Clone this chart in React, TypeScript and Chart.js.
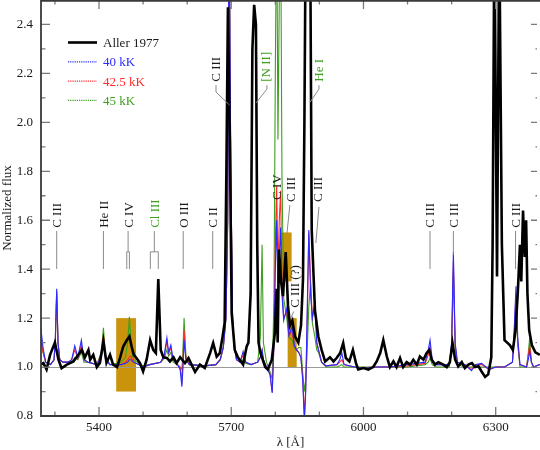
import React, { useEffect, useRef } from 'react';
import { Chart, registerables } from 'chart.js';
Chart.register(...registerables);

const SERIF = '"Liberation Serif", "DejaVu Serif", "Times New Roman", serif';
const BLUE = '#2b2bff';
const RED = '#ff2b2b';
const GREEN = '#3f9f1f';
const ORANGE = '#c9930c';

const X_MIN = 5268.4;
const X_MAX = 6400.5;
const Y_MIN = 0.8;
const Y_MAX = 2.5;
const xTickValues = [5400, 5700, 6000, 6300];
const xMinorTicks = [5300, 5400, 5500, 5600, 5700, 5800, 5900, 6000, 6100, 6200, 6300];
const yTickValues = [0.8, 1.0, 1.2, 1.4, 1.6, 1.8, 2.0, 2.2, 2.4];
const yMinorTicks = [0.9, 1.1, 1.3, 1.5, 1.7, 1.9, 2.1, 2.3];

// Aller 1977 observed spectrum
const allerLambda = [
  5268, 5274, 5281, 5289, 5300, 5308, 5315, 5327, 5342, 5349, 5361, 5368, 5376, 5380, 5387, 5395,
  5402, 5410, 5417, 5425, 5432, 5441, 5448, 5455, 5463, 5469, 5474, 5479, 5485, 5493, 5500, 5508,
  5516, 5523, 5529, 5534.5, 5540, 5546, 5554, 5561, 5569, 5576, 5584, 5595, 5603, 5610, 5618, 5629,
  5640, 5652, 5659, 5667, 5674, 5680, 5685, 5689, 5692.5, 5697, 5701, 5708, 5715, 5727, 5735, 5739,
  5744, 5748, 5752, 5756, 5759, 5762, 5766, 5777, 5783, 5792, 5799, 5803, 5805.4, 5808.4, 5812.9, 5817.4,
  5823.6, 5828.8, 5833.3, 5838.6, 5844.7, 5852.2, 5858.3, 5862.8, 5866, 5869, 5879, 5882.6, 5890, 5897.6,
  5905, 5913, 5924, 5932, 5939, 5947, 5954, 5960, 5968, 5976, 5983, 5988, 6000, 6011, 6022, 6030,
  6038, 6045, 6053, 6060, 6068, 6075, 6083, 6090, 6098, 6106, 6113, 6121, 6128, 6136, 6143, 6149,
  6155, 6162, 6170, 6181, 6189, 6196, 6202, 6208, 6215, 6223, 6230, 6238, 6246, 6253, 6261, 6268,
  6276, 6283, 6290, 6293, 6297, 6303, 6308, 6314, 6320, 6332, 6339, 6345, 6350, 6355, 6358, 6362,
  6366, 6369, 6372, 6376, 6382, 6390, 6400,
];
const allerFlux = [
  1.01, 1.016, 0.99, 1.05, 1.10, 1.03, 0.995, 1.01, 1.023, 1.04, 1.07, 1.04, 1.07, 1.03, 1.05, 1.0,
  1.017, 1.105, 1.017, 1.05, 1.01, 1.0, 1.04, 1.084, 1.11, 1.125, 1.084, 1.05, 1.037, 1.016, 0.982, 1.03,
  1.11, 1.07, 1.057, 1.36, 1.07, 1.04, 1.037, 1.023, 1.04, 1.016, 1.04, 1.016, 1.037, 1.01, 0.98, 1.01,
  0.996, 1.057, 1.098, 1.043, 1.057, 1.12, 1.18, 1.8, 2.47, 1.9, 1.22, 1.07, 1.04, 1.01, 1.084, 1.10,
  1.3, 2.3, 2.48, 2.4, 1.5, 1.1, 1.06, 1.0, 0.99, 1.03, 1.14, 1.32, 1.10, 1.48, 1.35, 1.29,
  1.47, 1.25, 1.17, 1.19, 1.125, 1.10, 1.17, 1.36, 2.0, 2.8, 2.8, 1.56, 1.23, 1.125,
  1.07, 1.023, 1.04, 1.023, 1.037, 1.057, 1.098, 1.037, 1.023, 1.07, 1.016, 0.99, 0.996, 0.99, 1.0, 1.023,
  1.057, 1.11, 1.043, 1.0, 1.023, 1.0, 1.037, 1.0, 1.02, 1.01, 1.03, 1.01, 1.043, 1.03, 1.057, 1.07,
  1.03, 1.01, 1.02, 1.01, 1.0, 1.02, 1.098, 1.03, 1.003, 1.02, 0.996, 1.01, 1.016, 1.0, 1.003, 0.982,
  0.96, 0.97, 1.04, 1.5, 2.8, 1.37, 2.8, 1.5, 1.11, 1.09, 1.07, 1.15, 1.3, 1.5, 1.35, 1.64,
  1.45, 1.6, 1.3, 1.15, 1.09, 1.06, 1.05,
];

// Model spectra (40 kK, 42.5 kK, 45 kK)
const modelLambda = [
  5268, 5273, 5279, 5290, 5298, 5301, 5304, 5307, 5311, 5318, 5330, 5338, 5345, 5352, 5360, 5366,
  5375, 5395, 5405, 5410, 5415, 5425, 5450, 5460, 5465, 5469, 5473, 5478, 5490, 5500, 5515, 5540,
  5548, 5554, 5558, 5563, 5568, 5578, 5584, 5588, 5590, 5593, 5597, 5605, 5640, 5665, 5675, 5682,
  5688, 5692, 5695, 5699, 5703, 5707, 5712, 5720, 5727, 5733, 5745, 5760, 5766, 5770, 5773, 5780,
  5788, 5793, 5797, 5800, 5803, 5806, 5809, 5812, 5815, 5819, 5826, 5831, 5838, 5843, 5848, 5853,
  5858, 5862, 5866, 5869, 5872, 5876, 5880, 5884, 5890, 5894, 5898, 5905, 5915, 5940, 5946, 5951,
  5956, 5980, 6000, 6030, 6060, 6100, 6140, 6147, 6151, 6156, 6165, 6195, 6200, 6204, 6208, 6213,
  6230, 6245, 6255, 6268, 6285, 6300, 6320, 6338, 6342, 6346, 6350, 6355, 6370, 6374, 6377, 6381,
  6386, 6400,
];
const flux40 = [
  1.16, 1.08, 1.02, 1.01, 1.03, 1.12, 1.32, 1.10, 1.03, 1.02, 1.02, 1.03, 1.087, 1.04, 1.11, 1.03,
  1.02, 1.01, 1.04, 1.11, 1.03, 1.01, 1.01, 1.015, 1.02, 1.03, 1.03, 1.02, 1.01, 1.0, 1.01, 1.02,
  1.05, 1.12, 1.06, 1.09, 1.03, 1.01, 0.99, 0.92, 0.98, 1.11, 1.03, 1.01, 1.005, 1.01, 1.03, 1.08,
  1.2, 1.6, 2.9, 1.8, 1.2, 1.08, 1.03, 1.02, 1.064, 1.02, 1.01, 1.02, 1.04, 1.07, 1.03, 1.0,
  0.97, 0.895, 1.1, 1.4, 1.6, 1.3, 1.45, 1.57, 1.3, 1.19, 1.24, 1.13, 1.166, 1.09, 1.07, 1.06,
  1.04, 0.95, 0.78, 0.9, 1.2, 1.56, 1.3, 1.2, 1.27, 1.1, 1.07, 1.02, 1.005, 1.01, 1.03, 1.057,
  1.01, 1.0, 0.995, 1.0, 1.0, 1.01, 1.02, 1.07, 1.11, 1.03, 1.01, 1.01, 1.1, 1.47, 1.1, 1.02,
  1.01, 0.985, 1.01, 1.015, 0.99, 1.0, 1.0, 1.02, 1.15, 1.33, 1.12, 1.01, 1.0, 1.03, 1.064, 1.02,
  1.0, 1.01,
];
const flux425 = [
  1.12, 1.06, 1.02, 1.01, 1.03, 1.12, 1.31, 1.10, 1.03, 1.02, 1.02, 1.03, 1.07, 1.035, 1.09, 1.03,
  1.02, 1.01, 1.05, 1.13, 1.03, 1.01, 1.01, 1.02, 1.03, 1.04, 1.045, 1.02, 1.01, 1.0, 1.01, 1.02,
  1.045, 1.105, 1.055, 1.08, 1.03, 1.01, 1.0, 0.948, 1.0, 1.15, 1.04, 1.01, 1.005, 1.01, 1.03, 1.08,
  1.2, 1.6, 2.9, 1.8, 1.2, 1.08, 1.03, 1.02, 1.05, 1.02, 1.01, 1.02, 1.04, 1.07, 1.03, 1.0,
  0.97, 0.895, 1.1, 1.5, 1.74, 1.4, 1.6, 1.72, 1.35, 1.2, 1.23, 1.13, 1.15, 1.09, 1.07, 1.06,
  1.04, 0.96, 0.80, 0.92, 1.15, 1.55, 1.35, 1.2, 1.25, 1.1, 1.07, 1.02, 1.005, 1.01, 1.02, 1.03,
  1.01, 1.0, 0.997, 1.0, 1.0, 1.005, 1.015, 1.05, 1.084, 1.02, 1.01, 1.01, 1.09, 1.43, 1.09, 1.02,
  1.01, 0.99, 1.01, 1.01, 0.99, 1.0, 1.0, 1.02, 1.14, 1.30, 1.1, 1.01, 1.0, 1.05, 1.09, 1.02,
  1.0, 1.01,
];
const flux45 = [
  1.11, 1.06, 1.02, 1.01, 1.03, 1.11, 1.30, 1.10, 1.03, 1.02, 1.02, 1.02, 1.04, 1.03, 1.06, 1.02,
  1.02, 1.01, 1.06, 1.16, 1.04, 1.01, 1.02, 1.04, 1.10, 1.205, 1.08, 1.03, 1.015, 1.005, 1.01, 1.02,
  1.035, 1.07, 1.045, 1.06, 1.02, 1.01, 1.0, 0.99, 1.05, 1.20, 1.05, 1.01, 1.005, 1.01, 1.03, 1.08,
  1.2, 1.6, 2.9, 1.8, 1.2, 1.08, 1.03, 1.02, 1.03, 1.015, 1.01, 1.02, 1.12, 1.5, 1.10, 1.02,
  0.98, 0.95, 1.3, 2.2, 2.9, 1.93, 2.5, 2.9, 1.8, 1.28, 1.2, 1.12, 1.11, 1.08, 1.07, 1.08,
  1.08, 0.98, 0.90, 0.95, 1.05, 1.25, 1.34, 1.18, 1.12, 1.07, 1.06, 1.02, 1.0, 1.0, 1.005, 1.01,
  1.0, 1.0, 1.0, 1.0, 1.0, 1.0, 1.01, 1.02, 1.037, 1.01, 1.0, 1.0, 1.08, 1.39, 1.08, 1.01,
  1.0, 1.0, 1.0, 1.0, 1.0, 1.0, 1.0, 1.02, 1.12, 1.275, 1.09, 1.0, 1.0, 1.06, 1.118, 1.02,
  1.0, 1.01,
];

// Highlighted wavelength windows: [lambdaStart, lambdaEnd, fluxLow, fluxHigh]
const boxLambdaStart = [5439, 5814.5, 5828];
const boxLambdaEnd = [5484, 5837, 5848.5];
const boxFluxLow = [0.9, 1.35, 1.0];
const boxFluxHigh = [1.2, 1.55, 1.2];

// Line identifications
type LineLabel = {
  text: string; lam: number; f: number; green?: boolean;
  leader: number[][]; fork?: number[];
};
const lineLabels: LineLabel[] = [
  { text: 'C III', lam: 5304, f: 1.569, leader: [[5304, 1.556], [5304, 1.401]] },
  { text: 'He II', lam: 5410, f: 1.569, leader: [[5410, 1.556], [5410, 1.401]] },
  { text: 'C IV', lam: 5466, f: 1.569, leader: [[5466, 1.556], [5466, 1.471]], fork: [5463, 5469, 1.471, 1.401] },
  { text: 'Cl III', lam: 5525.5, f: 1.569, green: true, leader: [[5525.5, 1.556], [5525.5, 1.471]], fork: [5516.5, 5534.5, 1.471, 1.401] },
  { text: 'O III', lam: 5591, f: 1.569, leader: [[5591, 1.556], [5591, 1.401]] },
  { text: 'C II', lam: 5658, f: 1.569, leader: [[5658, 1.556], [5658, 1.401]] },
  { text: 'C III', lam: 6151, f: 1.569, leader: [[6151, 1.556], [6151, 1.401]] },
  { text: 'C III', lam: 6204, f: 1.569, leader: [[6204, 1.556], [6204, 1.458]] },
  { text: 'C III', lam: 6345, f: 1.569, leader: [[6345, 1.556], [6345, 1.401]] },
  { text: 'C III', lam: 5665.4, f: 2.166, leader: [[5665.4, 2.152], [5665.4, 2.124], [5696, 2.071]] },
  { text: '[N II]', lam: 5779, f: 2.166, green: true, leader: [[5781, 2.152], [5781, 2.136], [5756, 2.079]] },
  { text: 'He I', lam: 5899, f: 2.166, green: true, leader: [[5899, 2.152], [5899, 2.136], [5879, 2.083]] },
  { text: 'C IV', lam: 5803, f: 1.683, leader: [] },
  { text: 'C III', lam: 5834, f: 1.675, leader: [[5833, 1.662], [5826.5, 1.548]] },
  { text: 'C III', lam: 5897, f: 1.675, leader: [[5899, 1.654], [5892, 1.507]] },
  { text: 'C III (?)', lam: 5844.6, f: 1.242, leader: [[5841.7, 1.227], [5835.6, 1.201]] },
];

const seriesNames = ['Aller 1977', '40 kK', '42.5 kK', '45 kK'];
const seriesColors = ['#000000', BLUE, RED, GREEN];

const decor = {
  id: 'decor',
  beforeDatasetsDraw(chart: any) {
    const { ctx, chartArea: a, scales } = chart;
    const xs = scales.x, ys = scales.y;
    ctx.save();
    ctx.beginPath();
    ctx.rect(a.left, a.top, a.right - a.left, a.bottom - a.top);
    ctx.clip();
    ctx.fillStyle = ORANGE;
    for (let i = 0; i < boxLambdaStart.length; i++) {
      const x0 = xs.getPixelForValue(boxLambdaStart[i]);
      const x1 = xs.getPixelForValue(boxLambdaEnd[i]);
      const y0 = ys.getPixelForValue(boxFluxHigh[i]);
      const y1 = ys.getPixelForValue(boxFluxLow[i]);
      ctx.fillRect(x0, y0, x1 - x0, y1 - y0);
    }
    ctx.strokeStyle = '#9a9a9a';
    ctx.lineWidth = 1;
    const y1 = Math.round(ys.getPixelForValue(1.0)) + 0.5;
    ctx.beginPath();
    ctx.moveTo(a.left, y1);
    ctx.lineTo(a.right, y1);
    ctx.stroke();
    ctx.restore();
  },
  afterDatasetsDraw(chart: any) {
    const { ctx, chartArea: a, scales } = chart;
    const xs = scales.x, ys = scales.y;
    ctx.save();
    // ticks
    ctx.strokeStyle = '#7a7a7a';
    ctx.lineWidth = 1.3;
    ctx.beginPath();
    for (const v of xMinorTicks) {
      const x = xs.getPixelForValue(v);
      const len = xTickValues.includes(v) ? 9 : 4.5;
      ctx.moveTo(x, a.bottom); ctx.lineTo(x, a.bottom - len);
      ctx.moveTo(x, a.top); ctx.lineTo(x, a.top + len);
    }
    for (const v of [...yTickValues, ...yMinorTicks]) {
      const y = ys.getPixelForValue(v);
      const len = yTickValues.includes(v) ? 9 : 4.5;
      ctx.moveTo(a.left, y); ctx.lineTo(a.left + len, y);
      ctx.moveTo(a.right - 3, y); ctx.lineTo(a.right - 3 - (len - 3), y);
    }
    ctx.stroke();
    // frame
    ctx.strokeStyle = '#3a3a3a';
    ctx.lineWidth = 1.8;
    ctx.beginPath();
    ctx.moveTo(a.right, a.top + 0.8);
    ctx.lineTo(a.left, a.top + 0.8);
    ctx.lineTo(a.left, a.bottom);
    ctx.lineTo(a.right, a.bottom);
    ctx.stroke();

    // line labels
    ctx.font = `13px ${SERIF}`;
    for (const L of lineLabels) {
      ctx.strokeStyle = '#8a8a8a';
      ctx.lineWidth = 1;
      if (L.leader.length) {
        ctx.beginPath();
        L.leader.forEach((p, i) => {
          const x = xs.getPixelForValue(p[0]);
          const y = ys.getPixelForValue(p[1]);
          if (i === 0) ctx.moveTo(x, y); else ctx.lineTo(x, y);
        });
        ctx.stroke();
      }
      if (L.fork) {
        const [l1, l2, fTop, fBot] = L.fork;
        const x1 = xs.getPixelForValue(l1), x2 = xs.getPixelForValue(l2);
        const yt = ys.getPixelForValue(fTop), yb = ys.getPixelForValue(fBot);
        ctx.beginPath();
        ctx.moveTo(x1, yb); ctx.lineTo(x1, yt); ctx.lineTo(x2, yt); ctx.lineTo(x2, yb);
        ctx.stroke();
      }
      const x = xs.getPixelForValue(L.lam);
      const y = ys.getPixelForValue(L.f);
      ctx.save();
      ctx.translate(x, y);
      ctx.rotate(-Math.PI / 2);
      ctx.fillStyle = L.green ? GREEN : '#1a1a1a';
      ctx.textAlign = 'left';
      ctx.textBaseline = 'middle';
      ctx.fillText(L.text, 0, 1);
      ctx.restore();
    }

    // legend
    const lx0 = 68, lx1 = 97, tx = 103, ly0 = 42.5, dy = 19.3;
    seriesNames.forEach((name, i) => {
      const y = ly0 + i * dy;
      ctx.strokeStyle = seriesColors[i];
      ctx.lineWidth = i === 0 ? 2.6 : 1.2;
      ctx.setLineDash(i === 0 ? [] : [1.2, 1]);
      ctx.beginPath();
      ctx.moveTo(lx0, y); ctx.lineTo(lx1, y);
      ctx.stroke();
      ctx.setLineDash([]);
      ctx.fillStyle = i === 0 ? '#1a1a1a' : seriesColors[i];
      ctx.textAlign = 'left';
      ctx.textBaseline = 'middle';
      ctx.fillText(name, tx, y + 1);
    });
    ctx.restore();
  },
};

export default function App() {
  const ref = useRef<HTMLCanvasElement>(null);
  useEffect(() => {
    document.body.style.margin = '0';
    const canvas = ref.current;
    if (!canvas) return;
    const pts = (xs: number[], ys: number[]) => xs.map((x, i) => ({ x, y: ys[i] }));
    const fluxes = [allerFlux, flux40, flux425, flux45];
    const lambdas = [allerLambda, modelLambda, modelLambda, modelLambda];
    const chart = new Chart(canvas, {
      type: 'line',
      data: {
        datasets: seriesNames.map((name, i) => ({
          label: name,
          data: pts(lambdas[i], fluxes[i]),
          borderColor: seriesColors[i],
          backgroundColor: seriesColors[i],
          borderWidth: i === 0 ? 2.6 : 1.1,
          pointRadius: 0,
          fill: false,
          tension: 0,
        })),
      },
      options: {
        animation: false,
        responsive: false,
        devicePixelRatio: 1,
        layout: { padding: 0 },
        plugins: { legend: { display: false }, tooltip: { enabled: false } },
        scales: {
          x: {
            type: 'linear',
            min: X_MIN,
            max: X_MAX,
            afterBuildTicks: (s: any) => { s.ticks = xTickValues.map((v) => ({ value: v })); },
            afterFit: (s: any) => { s.height = 34; s.paddingLeft = 0; s.paddingRight = 0; },
            grid: { display: false, drawTicks: false },
            border: { display: false },
            ticks: {
              autoSkip: false, maxRotation: 0, padding: 4, color: '#1a1a1a',
              font: { family: SERIF, size: 13 },
              callback: (v: any) => String(v),
            },
            title: {
              display: true, text: 'λ [Å]', color: '#1a1a1a',
              font: { family: SERIF, size: 13 }, padding: { top: 0, bottom: 0 },
            },
          },
          y: {
            type: 'linear',
            min: Y_MIN,
            max: Y_MAX,
            afterBuildTicks: (s: any) => { s.ticks = yTickValues.map((v) => ({ value: v })); },
            afterFit: (s: any) => { s.width = 41; s.paddingTop = 0; s.paddingBottom = 0; },
            grid: { display: false, drawTicks: false },
            border: { display: false },
            ticks: {
              padding: 8, color: '#1a1a1a',
              font: { family: SERIF, size: 13 },
              callback: (v: any) => Number(v).toFixed(1),
            },
            title: {
              display: true, text: 'Normalized flux', color: '#1a1a1a',
              font: { family: SERIF, size: 13 }, padding: { top: 0, bottom: 0 },
            },
          },
        },
      },
      plugins: [decor],
    } as any);
    return () => chart.destroy();
  }, []);
  return (
    <canvas
      ref={ref}
      width={540}
      height={450}
      style={{ display: 'block', position: 'absolute', left: 0, top: 0, width: 540, height: 450 }}
    />
  );
}
